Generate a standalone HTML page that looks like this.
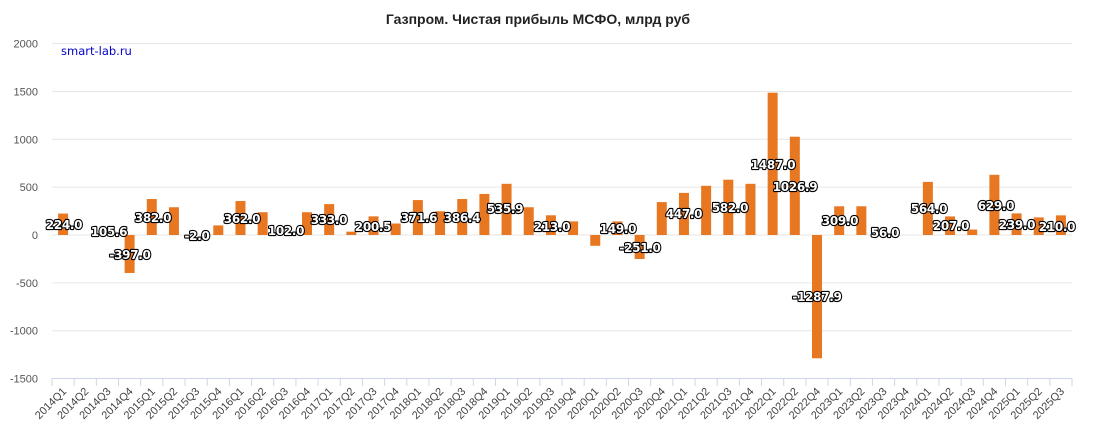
<!DOCTYPE html>
<html><head><meta charset="utf-8"><style>
html,body{margin:0;padding:0;background:#fff;}
svg{display:block;font-family:"Liberation Sans","DejaVu Sans",sans-serif;}
.dl{font-family:"DejaVu Sans",sans-serif;font-size:12px;font-weight:bold;fill:#fff;stroke:#000;stroke-width:2.2px;paint-order:stroke;stroke-linejoin:round;letter-spacing:-0.3px;}
.yl{font-size:11px;fill:#555;}
.xl{font-size:11px;fill:#444;}
</style></head><body>
<svg id="c" width="1093" height="437" viewBox="0 0 1093 437" xmlns="http://www.w3.org/2000/svg">
<text x="538" y="24" text-anchor="middle" style="font-size:14px;font-weight:bold;fill:#222">Газпром. Чистая прибыль МСФО, млрд руб</text>
<text x="61" y="55" style="font-family:'DejaVu Sans',sans-serif;font-size:11.5px;fill:#0000cc">smart-lab.ru</text>
</svg>
<script>
var s=document.getElementById('c'),NS='http://www.w3.org/2000/svg';
function el(t,a,txt){var e=document.createElementNS(NS,t);for(var k in a)e.setAttribute(k,a[k]);if(txt!=null)e.textContent=txt;s.appendChild(e);return e;}
var y0=235,k=47.85/500;
function Y(v){return y0-v*k;}
for(var g=2000;g>=-1500;g-=500){
 if(g!=-1500)el('line',{x1:52,x2:1072,y1:Y(g),y2:Y(g),stroke:'#e6e6e6','stroke-width':1});
 el('text',{x:38,y:Y(g)+4,'text-anchor':'end','class':'yl'},String(g));
}
el('line',{x1:52,x2:1072,y1:378.5,y2:378.5,stroke:'#ccd6eb','stroke-width':1});
var cats=[],yrs=[2014,2015,2016,2017,2018,2019,2020,2021,2022,2023,2024,2025];
yrs.forEach(function(y){for(var q=1;q<=4;q++){if(y==2022&&q==3)continue;if(y==2025&&q==4)continue;cats.push(y+'Q'+q);}});
var w=1020/cats.length;
var vals=[224,0,0,-397,376,290,0,100,355,238,0,238,323,35,195,120,365,248,376,429,535,290,206,142,-113,142,-251,344,440,514,578,535,1487,1027,-1288,300,300,0,0,555,194,57,629,226,184,205];
for(var i=0;i<=cats.length;i++){var x=52+w*i;el('line',{x1:x,x2:x,y1:378,y2:386,stroke:'#ccd6eb','stroke-width':1});}
cats.forEach(function(c,i){
 var cx=52+w*(i+0.5),v=vals[i];
 if(v!=0){var t=Math.min(Y(v),y0),h=Math.abs(v*k);el('rect',{x:cx-5,y:t,width:10,height:h,fill:'#e87722'});}
 el('text',{x:cx+4,y:392,'text-anchor':'end','class':'xl',transform:'rotate(-45 '+(cx+4)+' 392)'},c);
});
var L=[['224.0',64,225],['105.6',109,232],['-397.0',130,255],['382.0',153,218],['-2.0',197,236],['362.0',242,219],['102.0',286,231],['333.0',329,220],['200.5',373,227],['371.6',419,218],['386.4',462,218],['535.9',505,209],['213.0',552,227],['149.0',618,229],['-251.0',640,248],['447.0',684,214],['582.0',730,208],['1487.0',773,165],['1026.9',795,187],['-1287.9',817,297],['309.0',840,221],['56.0',885,233],['564.0',929,209],['207.0',951,226],['629.0',996,206],['239.0',1017,225],['210.0',1057,227]];
L.forEach(function(l){el('text',{x:l[1],y:l[2]+4,'text-anchor':'middle','class':'dl'},l[0]);});
</script>
</body></html>
